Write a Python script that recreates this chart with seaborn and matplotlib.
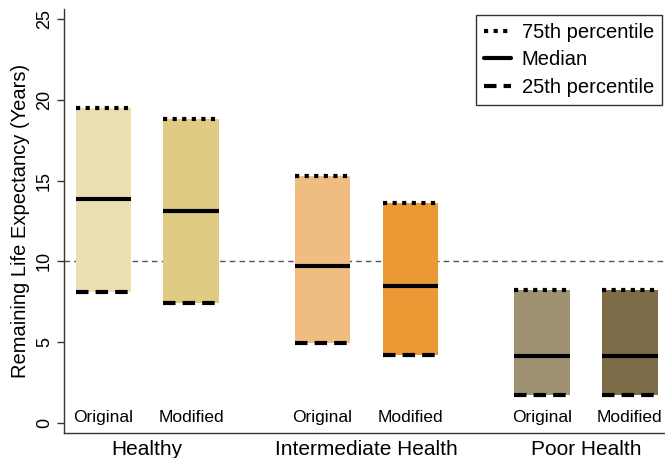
import matplotlib
matplotlib.use("Agg")
import matplotlib.pyplot as plt
from matplotlib.lines import Line2D
import numpy as np
import seaborn as sns

# data
groups = ["Healthy", "Intermediate Health", "Poor Health"]
versions = ["Original", "Modified"]
p25 = [8.10, 7.41, 4.91, 4.21, 1.71, 1.71]
median = [13.88, 13.10, 9.69, 8.49, 4.10, 4.10]
p75 = [19.51, 18.81, 15.29, 13.60, 8.20, 8.20]
colors = ["#EBDFB1", "#E0CB82", "#F0BD80", "#EA9935", "#9E9273", "#7E6C48"]
ref_line = 10

sns.set_theme(style="ticks", rc={"text.color": "black", "axes.labelcolor": "black",
                                 "xtick.labelcolor": "black",
                                 "ytick.labelcolor": "black"})
plt.rcParams["font.family"] = ["Liberation Sans", "DejaVu Sans"]

pos = np.array([0, 1, 2.5, 3.5, 5, 6])
lo = np.array(p25)
hi = np.array(p75)
width = 0.63

fig = plt.figure(figsize=(6.65, 4.58), dpi=100)
ax = fig.add_axes([64 / 665, 25 / 458, 601 / 665, 424 / 458])

sns.barplot(x=pos, y=hi - lo, bottom=lo, native_scale=True, width=width,
            color="0.8", linewidth=0, ax=ax)
for patch, c in zip(ax.patches, colors):
    patch.set_facecolor(c)

lw = 3.0
ax.hlines(hi, pos - width / 2, pos + width / 2, colors="black", lw=lw,
          linestyles=[(0, (1, 1.3))], capstyle="butt")
ax.hlines(median, pos - width / 2, pos + width / 2, colors="black", lw=lw)
ax.hlines(lo, pos - width / 2, pos + width / 2, colors="black", lw=lw,
          linestyles=[(0, (3, 1.7))], capstyle="butt")

ax.axhline(ref_line, color="#555555", lw=1, ls=(0, (4, 3)), zorder=0.5)

for i, x in enumerate(pos):
    ax.text(x, 0.3, versions[i % 2], ha="center", va="center", fontsize=12.5)

ax.set_xlim(-0.446, 6.4)
ax.set_ylim(-0.65, 25.65)
ax.set_xticks([0.5, 3, 5.5])
ax.set_xticklabels(groups, fontsize=15)
ax.tick_params(axis="x", length=0, pad=5)
ax.set_yticks([0, 5, 10, 15, 20, 25])
ax.set_yticklabels(["0", "5", "10", "15", "20", "25"], rotation=90,
                   va="center", fontsize=13)
ax.tick_params(axis="y", length=5, width=1, color="#333333", pad=3)
ax.set_xlabel("")
ax.set_ylabel("Remaining Life Expectancy (Years)", fontsize=14.5, labelpad=4)

sns.despine(ax=ax, top=True, right=True)
for s in ["left", "bottom"]:
    ax.spines[s].set_color("#333333")
    ax.spines[s].set_linewidth(1)

handles = [
    Line2D([], [], color="black", lw=lw, ls=(0, (1, 1.3)), dash_capstyle="butt"),
    Line2D([], [], color="black", lw=lw),
    Line2D([], [], color="black", lw=lw, ls=(0, (3, 1.7)), dash_capstyle="butt"),
]
leg = ax.legend(handles, ["75th percentile", "Median", "25th percentile"],
                loc="upper right", bbox_to_anchor=(0.995, 0.986), borderaxespad=0,
                fontsize=14.5, frameon=True, fancybox=False, handlelength=1.3,
                handletextpad=0.55, labelspacing=0.42, borderpad=0.4)
leg.get_frame().set_edgecolor("black")
leg.get_frame().set_linewidth(1)

fig.savefig("out.png", dpi=100)
